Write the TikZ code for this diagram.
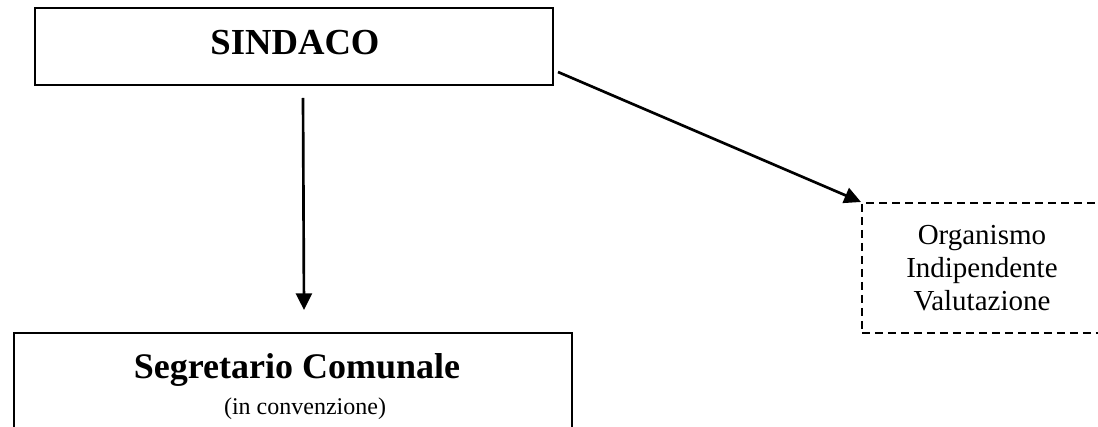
\documentclass[tikz,border=0pt]{standalone}
\usepackage{fontspec}
\setmainfont{Liberation Serif}
\usetikzlibrary{arrows.meta}
\tikzset{
  box/.style={draw=black, line width=1.5pt, rectangle, inner sep=0pt},
  dbox/.style={draw=black, line width=1.4pt, rectangle, inner sep=0pt, dash pattern=on 6pt off 3.75pt, align=center},
  arr/.style={line width=2pt, -{Triangle[length=12.5pt, width=12pt]}},
  txt/.style={inner sep=0pt, anchor=base}
}
\begin{document}
\begin{tikzpicture}[x=0.75pt, y=-0.75pt]
\path[use as bounding box] (0,0) rectangle (1098,427);
\clip (0,0) rectangle (1098,427);
% SINDACO
\node[box, minimum width=388.5pt, minimum height=57.75pt] (sind) at (294,46.5) {};
\node[txt, font=\fontsize{27.5}{32}\selectfont\bfseries] (sindt) at (295,55) {SINDACO};
% Segretario Comunale
\node[box, anchor=north west, minimum width=418.5pt, minimum height=120pt] (seg) at (13,332) {};
\node[txt, font=\fontsize{27}{32}\selectfont\bfseries] (segt) at (297,378) {Segretario Comunale};
\node[txt, font=\fontsize{18}{22}\selectfont] (segc) at (305,414) {(in convenzione)};
% OIV
\node[dbox, anchor=north west, minimum width=180pt, minimum height=97.5pt,
      font=\fontsize{21.75}{24.75}\selectfont] (oiv) at (861,202) {Organismo\\Indipendente\\Valutazione};
% connectors
\draw[arr] ([shift={(9,12)}]sind.south) -- ([shift={(11,-22)}]seg.north);
\draw[arr] ([shift={(4,25.5)}]sind.east) -- (oiv.north west);
\end{tikzpicture}
\end{document}
